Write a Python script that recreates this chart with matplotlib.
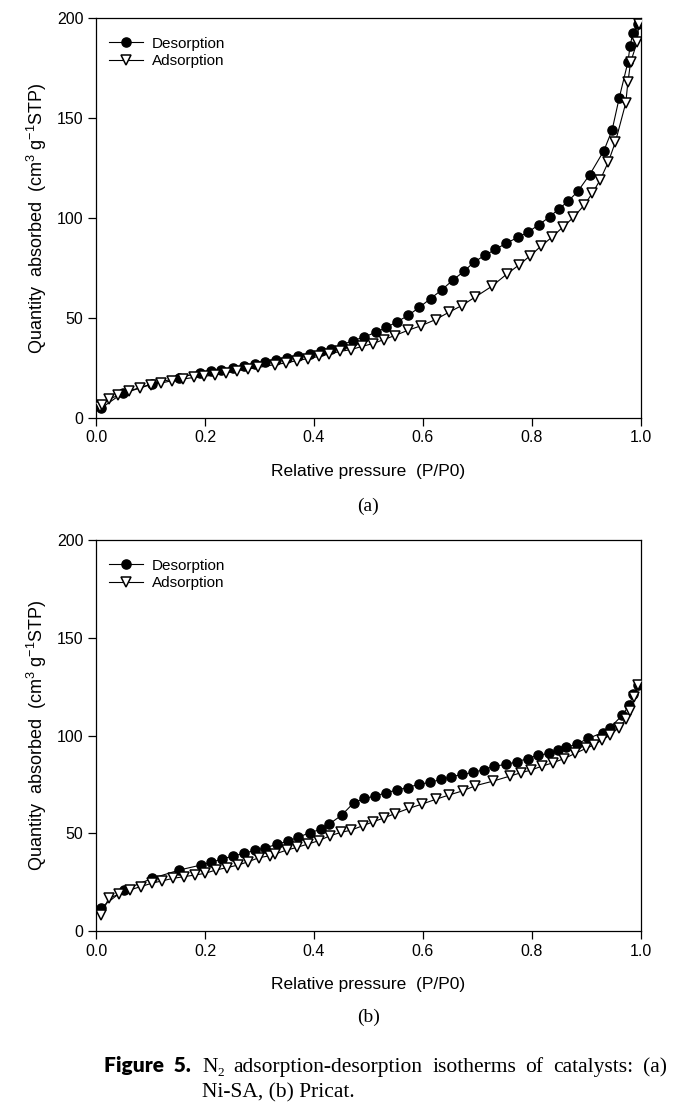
import matplotlib
matplotlib.use("Agg")
import matplotlib.pyplot as plt

plt.rcParams['font.family'] = ['Liberation Sans', 'DejaVu Sans']
plt.rcParams['mathtext.fontset'] = 'custom'
plt.rcParams['mathtext.rm'] = 'Liberation Sans'
plt.rcParams['mathtext.it'] = 'Liberation Sans:italic'

# ---------------- data: (a) Ni-SA ----------------
a_des_x = [0.995, 0.985, 0.980, 0.976, 0.960, 0.947, 0.932, 0.906, 0.884, 0.866,
           0.849, 0.833, 0.813, 0.793, 0.774, 0.752, 0.733, 0.713, 0.693, 0.675,
           0.655, 0.635, 0.614, 0.593, 0.573, 0.553, 0.533, 0.513, 0.492, 0.472,
           0.452, 0.432, 0.412, 0.392, 0.371, 0.351, 0.331, 0.311, 0.291, 0.271,
           0.251, 0.230, 0.211, 0.190, 0.152, 0.102, 0.049, 0.010]
a_des_y = [197.0, 192.5, 186.0, 178.0, 160.0, 144.0, 133.7, 121.7, 113.3, 108.3,
           104.5, 100.7, 96.7, 93.0, 90.3, 87.3, 84.3, 81.3, 77.8, 73.3,
           69.0, 64.2, 59.7, 55.3, 51.3, 48.2, 45.3, 42.8, 40.5, 38.7,
           36.7, 34.7, 33.3, 32.2, 31.0, 30.0, 29.0, 28.0, 27.0, 26.0,
           25.0, 24.2, 23.3, 22.5, 20.2, 17.0, 12.5, 5.0]

a_ads_x = [0.008, 0.011, 0.024, 0.041, 0.061, 0.081, 0.100, 0.120, 0.140, 0.160,
           0.180, 0.199, 0.219, 0.239, 0.259, 0.279, 0.298, 0.328, 0.348, 0.369,
           0.389, 0.409, 0.428, 0.448, 0.468, 0.488, 0.508, 0.528, 0.548, 0.572,
           0.597, 0.623, 0.647, 0.671, 0.696, 0.726, 0.754, 0.777, 0.797, 0.816,
           0.836, 0.856, 0.876, 0.896, 0.911, 0.925, 0.940, 0.953, 0.972, 0.976,
           0.981, 0.993, 0.996]
a_ads_y = [5.5, 6.7, 9.5, 11.3, 13.3, 15.0, 16.7, 17.5, 18.7, 19.5,
           20.3, 20.8, 21.7, 22.5, 23.7, 24.5, 25.3, 26.7, 27.5, 28.7,
           29.7, 30.8, 32.0, 33.3, 34.2, 35.8, 37.2, 39.2, 41.2, 43.8,
           46.2, 49.2, 52.8, 56.2, 60.5, 65.8, 72.0, 76.7, 81.2, 85.8,
           90.3, 95.3, 100.3, 106.5, 112.5, 119.0, 128.0, 138.0, 157.5, 168.0,
           178.0, 188.0, 197.0]

# ---------------- data: (b) Pricat ----------------
b_des_x = [0.995, 0.986, 0.978, 0.966, 0.943, 0.930, 0.903, 0.882, 0.863, 0.848,
           0.831, 0.811, 0.792, 0.772, 0.752, 0.731, 0.712, 0.692, 0.672, 0.652,
           0.633, 0.612, 0.592, 0.572, 0.552, 0.532, 0.512, 0.492, 0.473, 0.451,
           0.427, 0.413, 0.392, 0.371, 0.352, 0.332, 0.311, 0.291, 0.271, 0.251,
           0.231, 0.211, 0.192, 0.153, 0.103, 0.051, 0.009]
b_des_y = [125.7, 121.0, 115.5, 110.4, 104.0, 101.5, 98.5, 95.6, 93.9, 92.5,
           90.8, 89.9, 88.2, 86.5, 85.2, 84.3, 82.6, 81.1, 80.1, 78.9,
           77.5, 76.0, 75.0, 73.4, 72.1, 70.7, 69.0, 67.8, 65.6, 59.3,
           54.5, 52.0, 50.3, 47.9, 46.0, 44.3, 42.6, 41.2, 39.7, 38.3,
           36.8, 35.1, 33.7, 31.2, 26.9, 21.0, 11.9]

b_ads_x = [0.010, 0.023, 0.043, 0.062, 0.082, 0.102, 0.122, 0.141, 0.161, 0.181,
           0.200, 0.220, 0.240, 0.260, 0.279, 0.299, 0.319, 0.329, 0.350, 0.369,
           0.389, 0.409, 0.429, 0.449, 0.468, 0.489, 0.509, 0.529, 0.549, 0.574,
           0.598, 0.623, 0.647, 0.673, 0.696, 0.729, 0.759, 0.779, 0.798, 0.818,
           0.838, 0.859, 0.879, 0.899, 0.913, 0.928, 0.943, 0.959, 0.972, 0.980,
           0.988, 0.995]
b_ads_y = [8.2, 16.7, 18.9, 21.0, 22.7, 24.4, 25.7, 26.9, 27.8, 28.6,
           29.5, 31.2, 32.4, 33.7, 35.4, 37.5, 38.5, 39.4, 41.4, 42.8,
           44.5, 46.2, 48.7, 50.4, 51.6, 53.8, 55.9, 57.9, 60.1, 62.7,
           64.9, 67.3, 69.5, 71.7, 74.3, 76.7, 79.2, 80.9, 82.3, 84.3,
           86.0, 88.2, 90.8, 93.4, 95.1, 97.6, 100.2, 103.9, 108.2, 112.6,
           119.8, 125.7]

x_ticks = [0.0, 0.2, 0.4, 0.6, 0.8, 1.0]
x_ticklabels = ['0.0', '0.2', '0.4', '0.6', '0.8', '1.0']
y_ticks = [0, 50, 100, 150, 200]
y_ticklabels = ['0', '50', '100', '150', '200']
series_labels = ['Desorption', 'Adsorption']
panel_labels = ['(a)', '(b)']
x_label = 'Relative pressure  (P/P0)'
y_label = r'Quantity  absorbed  (cm$^{3}$ g$^{-1}$STP)'
caption_head = 'Figure  5.'
caption_line1 = ['N', 'adsorption-desorption', 'isotherms', 'of', 'catalysts:', '(a)']
caption_line2 = 'Ni-SA, (b) Pricat.'

W, H = 685, 1106
fig = plt.figure(figsize=(W / 100, H / 100), dpi=100)

def make_axes(left_px, right_px, top_px, bottom_px):
    return fig.add_axes([left_px / W, 1 - bottom_px / H,
                         (right_px - left_px) / W, (bottom_px - top_px) / H])

panels = [
    (make_axes(96, 641, 18, 418), a_des_x, a_des_y, a_ads_x, a_ads_y),
    (make_axes(96, 641, 540, 931), b_des_x, b_des_y, b_ads_x, b_ads_y),
]

for i, (ax, dx, dy, ax_, ay_) in enumerate(panels):
    ax.plot(dx, dy, color='black', lw=0.8, marker='o', ms=6.6,
            mfc='black', mec='black', label=series_labels[0], zorder=3)
    ax.plot(ax_, ay_, color='black', lw=0.8, marker='v', ms=7.0,
            mfc='white', mec='black', mew=1.1, label=series_labels[1], zorder=4)
    ax.set_xlim(0, 1.0)
    ax.set_ylim(0, 200)
    ax.set_xticks(x_ticks)
    ax.set_xticklabels(x_ticklabels)
    ax.set_yticks(y_ticks)
    ax.set_yticklabels(y_ticklabels)
    ax.tick_params(direction='out', length=6, width=0.9, labelsize=11.5,
                   top=False, right=False, pad=3)
    for s in ax.spines.values():
        s.set_linewidth(0.9)
        s.set_color('black')
    ax.set_xlabel(x_label, fontsize=12.5, labelpad=13)
    ax.set_ylabel(y_label, fontsize=13, labelpad=6)
    ax.legend(loc='upper left', bbox_to_anchor=(0.005, 0.98), frameon=False,
              fontsize=11, handlelength=2.2, handletextpad=0.6,
              borderaxespad=0.3, labelspacing=0.22, borderpad=0.4)
    ax.text(0.5, -0.22, panel_labels[i], transform=ax.transAxes,
            ha='center', va='center', fontsize=14, family='Liberation Serif')

# ---------------- caption ----------------
fig.text(104 / W, 1 - 1072 / H, caption_head, fontsize=15, fontweight='heavy',
         family=['Lato', 'DejaVu Sans'], va='baseline', ha='left')

cap_fs = 15.5
base1 = 1 - 1072 / H
base2 = 1 - 1097 / H
left_px, right_px = 202, 667
renderer = fig.canvas.get_renderer()

# measure words of line 1 to justify between left_px and right_px
word_objs = []
for w in caption_line1:
    t = fig.text(0, base1, w, fontsize=cap_fs, family='Liberation Serif',
                 va='baseline', ha='left')
    word_objs.append(t)
sub = fig.text(0, base1 - 4 / H, '2', fontsize=cap_fs * 0.62,
               family='Liberation Serif', va='baseline', ha='left')
widths = [t.get_window_extent(renderer).width for t in word_objs]
sub_w = sub.get_window_extent(renderer).width
widths[0] += sub_w
gap = (right_px - left_px - sum(widths)) / (len(widths) - 1)
x = left_px
for k, t in enumerate(word_objs):
    t.set_x(x / W)
    if k == 0:
        sub.set_x((x + widths[0] - sub_w) / W)
    x += widths[k] + gap

fig.text(left_px / W, base2, caption_line2, fontsize=cap_fs,
         family='Liberation Serif', va='baseline', ha='left')

fig.savefig('out.png', dpi=100)
